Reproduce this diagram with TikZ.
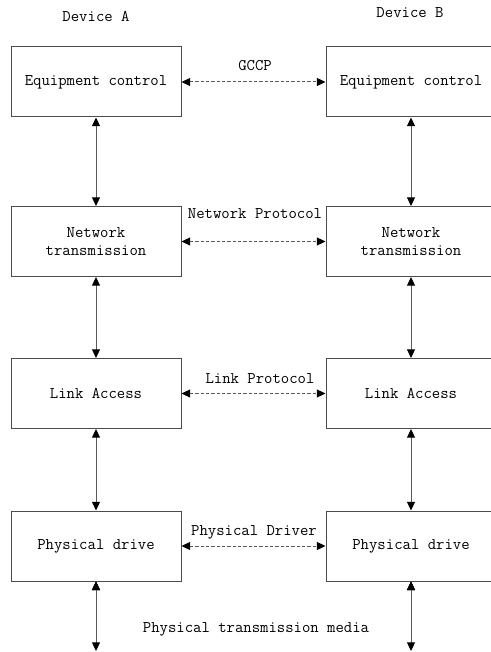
\documentclass[tikz,border=0pt]{standalone}
\usetikzlibrary{arrows.meta}

\begin{document}
\begin{tikzpicture}[x=0.75pt,y=-0.75pt,
    font=\ttfamily\fontsize{12.2}{13}\selectfont,
    layer/.style={draw=black!70,line width=0.75pt,minimum width=127.5pt,minimum height=52.5pt,align=center,inner sep=0pt},
    link/.style={draw=black!65,line width=0.75pt,{Triangle[length=6.5pt,width=6pt,color=black]}-{Triangle[length=6.5pt,width=6pt,color=black]}},
    proto/.style={link,dash pattern=on 2.5pt off 1.5pt}]
            \useasboundingbox (0,0) rectangle (490,652);
            \node(da) at (96, 16) {Device A};
            \node(db) at (410, 13) {Device B};
            \node[layer](a1) at (96, 82) {Equipment control};
            \node[layer](b1) at (411, 82) {Equipment control};
            \node[layer](a2) at (96, 241.5) {Network\\[1pt]transmission};
            \node[layer](b2) at (411, 241.5) {Network\\[1pt]transmission};
            \node[layer](a3) at (96, 393.5) {Link Access};
            \node[layer](b3) at (411, 393.5) {Link Access};
            \node[layer](a4) at (96, 546) {Physical drive};
            \node[layer](b4) at (411, 546) {Physical drive};
            \coordinate(ea) at (96, 651);
            \coordinate(eb) at (411, 651);
            \path[link] (a1) edge (a2) (a2) edge (a3) (a3) edge (a4) (a4.south) edge (ea);
            \path[link] (b1) edge (b2) (b2) edge (b3) (b3) edge (b4) (b4.south) edge (eb);
            \path[proto] (a1) edge (b1) (a2) edge (b2) (a3) edge (b3) (a4) edge (b4);
            \node(p1) at (255, 66) {GCCP};
            \node(p2) at (255, 214) {Network Protocol};
            \node(p3) at (260, 379) {Link Protocol};
            \node(p4) at (254, 532) {Physical Driver};
            \node(m) at (256, 629) {Physical transmission media};
        \end{tikzpicture}
\end{document}
